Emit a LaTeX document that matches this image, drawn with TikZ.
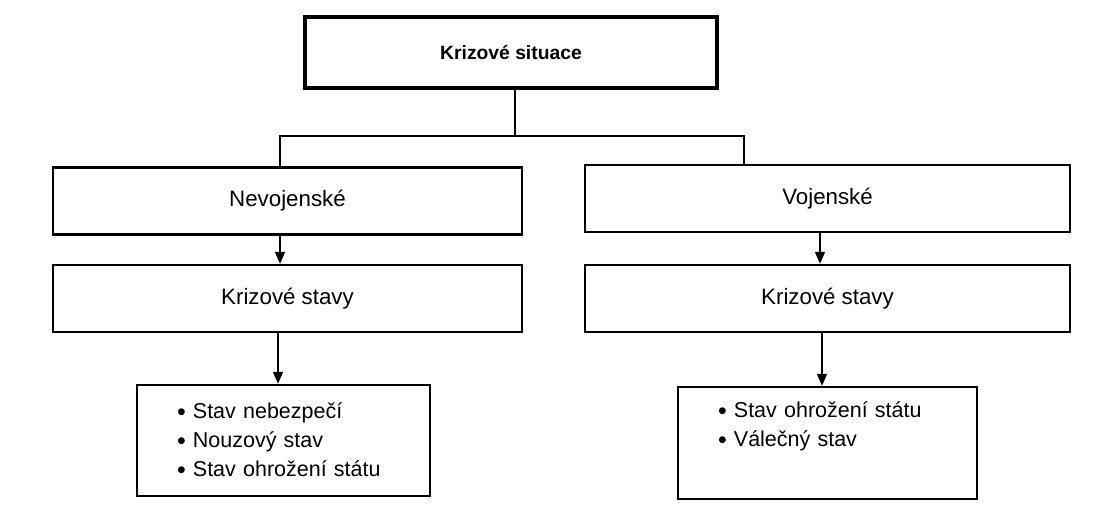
\documentclass[tikz,border=0pt]{standalone}
\usepackage{fontspec}
\setmainfont{Liberation Sans}
\usetikzlibrary{arrows.meta,positioning}
\newcommand{\listdot}{\raisebox{-1.5pt}{\fontsize{25}{29}\selectfont\textbullet}\ }

\begin{document}
\begin{tikzpicture}
    [x=1pt,y=-1pt,
    font=\fontsize{21.5}{29}\selectfont,
    head/.style={rectangle,draw=black,line width=3.2pt,
    inner sep=0pt,minimum width=412pt,minimum height=71pt,font=\fontsize{19.3}{23}\selectfont\bfseries},
    branch/.style={rectangle,draw=black,line width=2.4pt,
    inner sep=0pt,minimum height=67pt,font=\fontsize{22.3}{27}\selectfont},
    list/.style={rectangle,draw=black,line width=2.4pt,
    inner xsep=40pt,inner ysep=0pt,minimum height=111pt,align=left},
    link/.style={draw=black,line width=1.8pt},
    arrow/.style={link,-{Triangle[length=12pt,width=10pt]}}]
    \useasboundingbox (0,0) rectangle (1094,504);
    \node[head] (situace) at (511,52.5) {Krizové situace};
    \node[branch,minimum width=469pt] (nevoj) at (287.5,201) {Nevojenské};
    \node[branch,minimum width=469pt] (nkriz) at (287.5,298.5) {Krizové stavy};
    \node[list,text width=213pt] (nlist) at (283.5,440.5)
        {\listdot Stav nebezpečí\\ \listdot Nouzový stav\\ \listdot Stav ohrožení státu};
    \node[branch,minimum width=485pt] (voj) at (827.5,198.5) {Vojenské};
    \node[branch,minimum width=485pt] (vkriz) at (827.5,298.5) {Krizové stavy};
    \node[list,text width=219pt,minimum height=112pt] (vlist) at (827.5,443)
        {\listdot Stav ohrožení státu\\ \listdot Válečný stav\\ \strut};
    \coordinate (split) at (515,136);
    \draw[link] (situace.south -| split) -- (split);
    \draw[link] ([xshift=-7.5pt]nevoj.north) |- (split) -| ([xshift=-83.5pt]voj.north);
    \draw[arrow] ([xshift=-7.5pt]nevoj.south) -- ([xshift=-7.5pt]nkriz.north);
    \draw[arrow] ([xshift=-7.5pt]voj.south) -- ([xshift=-7.5pt]vkriz.north);
    \draw[arrow] ([xshift=-9.5pt]nkriz.south) -- ([xshift=-5.5pt]nlist.north);
    \draw[arrow] ([xshift=-5.5pt]vkriz.south) -- ([xshift=-5.5pt]vlist.north);
\end{tikzpicture}
\end{document}
